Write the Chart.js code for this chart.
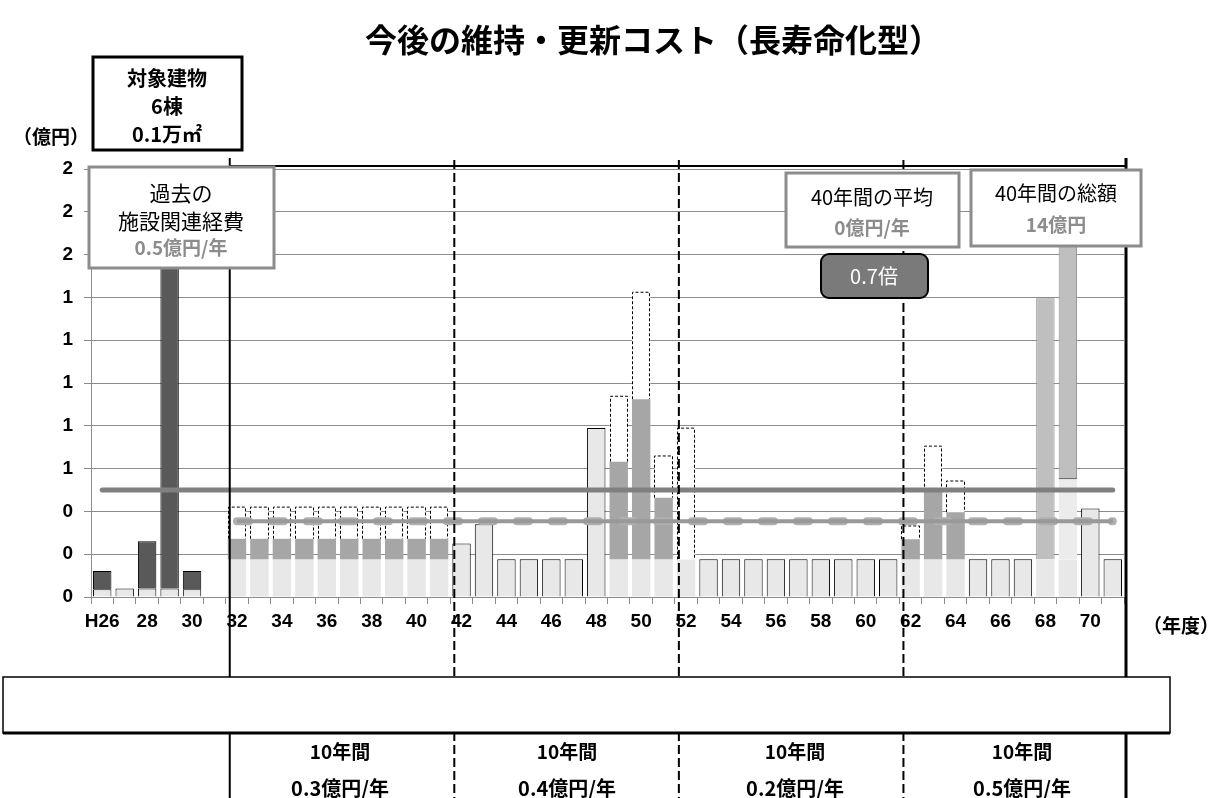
<!DOCTYPE html>
<html lang="ja">
<head>
<meta charset="utf-8">
<title>今後の維持・更新コスト（長寿命化型）</title>
<script src="https://cdn.jsdelivr.net/npm/chart.js@4.4.1/dist/chart.umd.min.js"></script>
<style>
  html, body { margin: 0; padding: 0; background: #fff; }
  #wrap { position: relative; width: 1214px; height: 798px; }
</style>
</head>
<body>
<div id="wrap"><canvas id="costChart" width="1214" height="798"></canvas></div>
<script>
// fiscal years H26 .. H71
const years = [26,27,28,29,30,31,32,33,34,35,36,37,38,39,40,41,42,43,44,45,46,47,48,49,50,
  51,52,53,54,55,56,57,58,59,60,61,62,63,64,65,66,67,68,69,70,71];
const tickLabels = ['H26','','28','','30','','32','','34','','36','','38','','40','','42','','44','','46','','48','','50','',
  '52','','54','','56','','58','','60','','62','','64','','66','','68','','70',''];

// 億円 per year
const baseCost = [0.036,0.04,0.04,0.04,0.036,null,
  0.175,0.175,0.175,0.175,0.175,0.175,0.175,0.175,0.175,0.175,
  0.25,0.34,0.176,0.176,0.176,0.176,0.79,0.175,0.175,0.175,0.175,
  0.176,0.176,0.176,0.176,0.176,0.176,0.176,0.176,0.176,
  0.175,0.175,0.175,0.176,0.176,0.176,0.175,0.175,0.414,0.176];
const pastCost = [0.085,null,0.22,1.72,0.085,null,
  null,null,null,null,null,null,null,null,null,null,
  null,null,null,null,null,null,null,null,null,null,null,
  null,null,null,null,null,null,null,null,null,
  null,null,null,null,null,null,null,null,null,null];
const renovCost = [null,null,null,null,null,null,
  0.097,0.097,0.097,0.097,0.097,0.097,0.097,0.097,0.097,0.097,
  null,null,null,null,null,null,null,0.457,0.749,0.289,null,
  null,null,null,null,null,null,null,null,null,
  0.095,0.317,0.221,null,null,null,null,null,null,null];
const lightCost = [null,null,null,null,null,null,
  null,null,null,null,null,null,null,null,null,null,
  null,null,null,null,null,null,null,null,null,null,null,
  null,null,null,null,null,null,null,null,null,
  null,null,null,null,null,null,null,0.38,null,null];
const rebuildCost = [null,null,null,null,null,null,
  null,null,null,null,null,null,null,null,null,null,
  null,null,null,null,null,null,null,null,null,null,null,
  null,null,null,null,null,null,null,null,null,
  null,null,null,null,null,null,1.221,1.25,null,null];
const deferredCost = [null,null,null,null,null,null,
  0.148,0.148,0.148,0.148,0.148,0.148,0.148,0.148,0.148,0.148,
  null,null,null,null,null,null,null,0.306,0.50,0.195,0.614,
  null,null,null,null,null,null,null,null,null,
  0.062,0.213,0.146,null,null,null,null,null,null,null];
const pastAvg = [0.5,0.5,0.5,0.5,0.5,0.5,0.5,0.5,0.5,0.5,0.5,0.5,0.5,0.5,0.5,0.5,0.5,0.5,0.5,0.5,0.5,0.5,0.5,
  0.5,0.5,0.5,0.5,0.5,0.5,0.5,0.5,0.5,0.5,0.5,0.5,0.5,0.5,0.5,0.5,0.5,0.5,0.5,0.5,0.5,0.5,0.5];
const futureAvg = [null,null,null,null,null,null,
  0.354,0.354,0.354,0.354,0.354,0.354,0.354,0.354,0.354,0.354,
  0.354,0.354,0.354,0.354,0.354,0.354,0.354,0.354,0.354,0.354,0.354,
  0.354,0.354,0.354,0.354,0.354,0.354,0.354,0.354,0.354,
  0.354,0.354,0.354,0.354,0.354,0.354,0.354,0.354,0.354,0.354];

const periodAvg = ['0.3億円/年','0.4億円/年','0.2億円/年','0.5億円/年'];

const JP = '"Noto Sans CJK JP", sans-serif';
const NUM = '"Liberation Sans", Arial, sans-serif';

// base segment gets an outline only when nothing else sits on top of it
function isBare(i) {
  return renovCost[i] == null && lightCost[i] == null && rebuildCost[i] == null && deferredCost[i] == null;
}

// dashed outline for the deferred segments
const dashedOutline = {
  id: 'dashedOutline',
  afterDatasetDraw(chart, args) {
    const ds = chart.data.datasets[args.index];
    if (!ds.dashed) return;
    const ctx = chart.ctx;
    ctx.save();
    ctx.strokeStyle = '#000';
    ctx.lineWidth = 1;
    ctx.setLineDash([3, 2]);
    args.meta.data.forEach((bar, i) => {
      if (ds.data[i] == null) return;
      const p = bar.getProps(['x', 'y', 'base', 'width'], true);
      const l = Math.round(p.x - p.width / 2) + 0.5;
      const r = Math.round(p.x + p.width / 2) - 0.5;
      ctx.beginPath();
      ctx.moveTo(l, p.base);
      ctx.lineTo(l, p.y);
      ctx.lineTo(r, p.y);
      ctx.lineTo(r, p.base);
      ctx.stroke();
    });
    ctx.restore();
  }
};

function textBox(ctx, x, y, w, h, color, lw) {
  ctx.fillStyle = '#fff';
  ctx.fillRect(x, y, w, h);
  ctx.strokeStyle = color;
  ctx.lineWidth = lw;
  ctx.strokeRect(x, y, w, h);
}

function label(ctx, text, x, y, font, color, align) {
  ctx.font = font;
  ctx.fillStyle = color;
  ctx.textAlign = align || 'center';
  ctx.textBaseline = 'middle';
  ctx.fillText(text, x, y);
}

const decorations = {
  id: 'decorations',
  beforeDraw(chart) {
    const ctx = chart.ctx;
    ctx.save();
    ctx.fillStyle = '#fff';
    ctx.fillRect(0, 0, chart.width, chart.height);
    ctx.restore();
  },
  afterDraw(chart) {
    const ctx = chart.ctx;
    const xs = chart.scales.x;
    const edge = i => (xs.getPixelForValue(i) + xs.getPixelForValue(i + 1)) / 2 + 4;
    const solidX = edge(5);
    const dashX = [edge(15), edge(25), edge(35)];
    const rightX = xs.right + 2;
    ctx.save();

    // title
    label(ctx, '今後の維持・更新コスト（長寿命化型）', 653, 40, 'bold 32px ' + JP, '#000');

    // frame lines
    ctx.strokeStyle = '#000';
    ctx.lineWidth = 2;
    ctx.beginPath();
    ctx.moveTo(solidX, 166); ctx.lineTo(rightX, 166);
    ctx.moveTo(solidX, 158); ctx.lineTo(solidX, 798);
    ctx.stroke();
    ctx.lineWidth = 3;
    ctx.beginPath();
    ctx.moveTo(rightX, 158); ctx.lineTo(rightX, 798);
    ctx.stroke();
    ctx.lineWidth = 2;
    ctx.setLineDash([9, 4]);
    ctx.beginPath();
    dashX.forEach(x => { ctx.moveTo(x, 160); ctx.lineTo(x, 798); });
    ctx.stroke();
    ctx.setLineDash([]);

    // bottom band
    ctx.fillStyle = '#fff';
    ctx.fillRect(3, 677, 1167, 56);
    ctx.strokeStyle = '#000';
    ctx.lineWidth = 1.5;
    ctx.strokeRect(3, 677, 1167, 56);
    ctx.lineWidth = 3;
    ctx.beginPath();
    ctx.moveTo(3, 733); ctx.lineTo(1170, 733);
    ctx.stroke();

    const periodX = [340, 567, 795, 1022];
    periodX.forEach((x, i) => {
      label(ctx, '10年間', x, 752, 'bold 19px ' + JP, '#000');
      label(ctx, periodAvg[i], x, 788, 'bold 20px ' + JP, '#000');
    });

    // axis captions
    label(ctx, '（億円）', 89, 137, 'bold 19px ' + JP, '#000', 'right');
    label(ctx, '（年度）', 1143, 626, 'bold 19px ' + JP, '#000', 'left');

    // building box
    textBox(ctx, 93, 57, 149, 93, '#000', 3);
    label(ctx, '対象建物', 167, 78, 'bold 20px ' + JP, '#000');
    label(ctx, '6棟', 167, 106, 'bold 20px ' + JP, '#000');
    label(ctx, '0.1万㎡', 167, 134, 'bold 20px ' + JP, '#000');

    // past cost box
    textBox(ctx, 89, 167, 185, 101, '#8c8c8c', 3);
    label(ctx, '過去の', 181, 193, '21px ' + JP, '#000');
    label(ctx, '施設関連経費', 181, 221, '21px ' + JP, '#000');
    label(ctx, '0.5億円/年', 181, 248, 'bold 19px ' + JP, '#8c8c8c');

    // 40 year average box
    textBox(ctx, 786, 173, 173, 74, '#8c8c8c', 3);
    label(ctx, '40年間の平均', 872, 197, '20px ' + JP, '#000');
    label(ctx, '0億円/年', 872, 228, 'bold 19px ' + JP, '#8c8c8c');

    // 40 year total box
    textBox(ctx, 971, 170, 170, 76, '#8c8c8c', 3);
    label(ctx, '40年間の総額', 1056, 193, '20px ' + JP, '#000');
    label(ctx, '14億円', 1056, 225, 'bold 19px ' + JP, '#8c8c8c');

    // ratio badge
    ctx.beginPath();
    ctx.roundRect(821, 254, 107, 44, 8);
    ctx.fillStyle = '#7a7a7a';
    ctx.fill();
    ctx.lineWidth = 2;
    ctx.strokeStyle = '#000';
    ctx.stroke();
    label(ctx, '0.7倍', 874, 276, '20px ' + JP, '#fff');

    ctx.restore();
  }
};

new Chart(document.getElementById('costChart'), {
  type: 'bar',
  data: {
    labels: years,
    datasets: [
      {
        type: 'line', label: '過去の平均', data: pastAvg, order: 0, stack: 'avgPast',
        borderColor: '#808080', borderWidth: 5, pointRadius: 0, borderCapStyle: 'round'
      },
      {
        type: 'line', label: '40年間の平均', data: futureAvg, order: 0, stack: 'avgFuture',
        borderColor: '#999999', borderWidth: 4, pointRadius: 0
      },
      {
        type: 'line', label: '40年間の平均 (点)', data: futureAvg, order: 0, stack: 'avgFutureDots',
        borderColor: '#b0b0b0', borderWidth: 8, pointRadius: 0,
        borderDash: [12, 23], borderCapStyle: 'round'
      },
      {
        label: '修繕', data: baseCost, order: 1, stack: 'cost', backgroundColor: '#e8e8e8',
        borderColor: '#000',
        borderWidth: ctx => isBare(ctx.dataIndex) ? 1 : 0
      },
      {
        label: '過去の経費', data: pastCost, order: 1, stack: 'cost', backgroundColor: '#595959',
        borderColor: '#000', borderWidth: 1
      },
      {
        label: '大規模改造', data: renovCost, order: 1, stack: 'cost', backgroundColor: '#a6a6a6'
      },
      {
        label: '改修', data: lightCost, order: 1, stack: 'cost', backgroundColor: '#ececec',
        borderColor: '#000', borderWidth: { top: 1, left: 0, right: 0, bottom: 0 }
      },
      {
        label: '建替え', data: rebuildCost, order: 1, stack: 'cost', backgroundColor: '#bfbfbf',
        borderColor: '#909090', borderWidth: 1
      },
      {
        label: '積み残し', data: deferredCost, order: 1, stack: 'cost', backgroundColor: '#ffffff',
        borderWidth: 0, dashed: true
      }
    ]
  },
  options: {
    responsive: false,
    animation: false,
    layout: { padding: { top: 169, right: 90, bottom: 0, left: 0 } },
    datasets: { bar: { barPercentage: 0.82, categoryPercentage: 1 } },
    plugins: { legend: { display: false }, tooltip: { enabled: false } },
    scales: {
      x: {
        stacked: true,
        afterFit: scale => { scale.height = 201; },
        grid: { drawOnChartArea: false, tickLength: 7, color: '#8c8c8c' },
        border: { color: '#8c8c8c' },
        ticks: {
          autoSkip: false, maxRotation: 0, padding: 6, color: '#000',
          font: { family: NUM, size: 19, weight: 'bold' },
          callback: (v, i) => tickLabels[i]
        }
      },
      y: {
        stacked: true,
        min: 0, max: 2,
        afterFit: scale => { scale.width = 91; },
        grid: { color: '#8c8c8c', tickLength: 7 },
        border: { color: '#8c8c8c' },
        ticks: {
          stepSize: 0.2, padding: 11, color: '#000',
          font: { family: NUM, size: 19, weight: 'bold' },
          callback: v => Math.round(v)
        }
      }
    }
  },
  plugins: [dashedOutline, decorations]
});
</script>
</body>
</html>
